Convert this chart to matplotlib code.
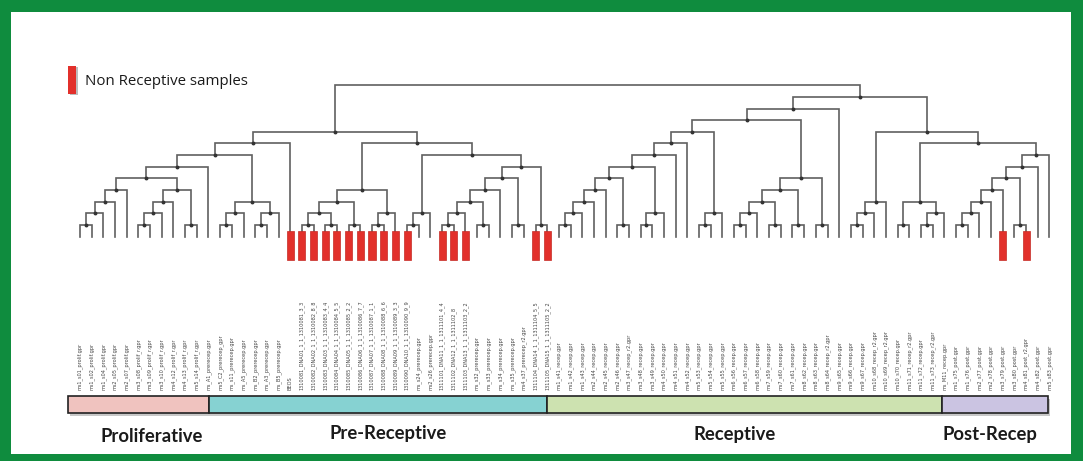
import matplotlib
matplotlib.use("Agg")
import matplotlib.pyplot as plt
from matplotlib.patches import Rectangle

# sample names along the bottom, in dendrogram leaf order
prolif_names = ["ms1_s01_prolif.gpr", "ms1_s02_prolif.gpr", "ms1_s04_prolif.gpr",
                "ms2_s05_prolif.gpr", "ms2_s07_prolif.gpr", "ms3_s08_prolif_r.gpr",
                "ms3_s09_prolif_r.gpr", "ms3_s10_prolif_r.gpr", "ms4_s12_prolif_r.gpr",
                "ms4_s13_prolif_r.gpr", "ms5_s14_prolif_r.gpr", "ms_A1_prerecep.gpr"]
prerecep_names = ["ms5_C2_prerecep_gpr", "ms_s11_prerecep.gpr", "ms_A5_prerecep.gpr",
                  "ms_B2_prerecep.gpr", "ms_A3_prerecep.gpr", "ms_B5_prerecep.gpr",
                  "BEOS",
                  "1310081_DNA01_1_1_1310081_3_3", "1310082_DNA02_1_1_1310082_8_8",
                  "1310083_DNA03_1_1_1310083_4_4", "1310084_DNA04_1_1_1310084_5_5",
                  "1310085_DNA05_1_1_1310085_2_2", "1310086_DNA06_1_1_1310086_7_7",
                  "1310087_DNA07_1_1_1310087_1_1", "1310088_DNA08_1_1_1310088_6_6",
                  "1310089_DNA09_1_1_1310089_3_3", "1310090_DNA10_1_1_1310090_9_9",
                  "ms_s24_prerecep.gpr", "ms2_s26_prerecep.gpr",
                  "1311101_DNA11_1_1_1311101_4_4", "1311102_DNA12_1_1_1311102_8",
                  "1311103_DNA13_1_1_1311103_2_2",
                  "ms_s32_prerecep.gpr", "ms_s33_prerecep.gpr", "ms_s34_prerecep.gpr",
                  "ms_s35_prerecep.gpr", "ms4_s37_prerecep_r2.gpr",
                  "1311104_DNA14_1_1_1311104_5_5", "1311105_DNA15_1_1_1311105_2_2"]
recep_names = ["ms1_s41_recep.gpr", "ms1_s42_recep.gpr", "ms1_s43_recep.gpr",
               "ms2_s44_recep.gpr", "ms2_s45_recep.gpr", "ms2_s46_recep.gpr",
               "ms3_s47_recep_r2.gpr", "ms3_s48_recep.gpr", "ms3_s49_recep.gpr",
               "ms4_s50_recep.gpr", "ms4_s51_recep.gpr", "ms4_s52_recep.gpr",
               "ms5_s53_recep.gpr", "ms5_s54_recep.gpr", "ms5_s55_recep.gpr",
               "ms6_s56_recep.gpr", "ms6_s57_recep.gpr", "ms6_s58_recep.gpr",
               "ms7_s59_recep.gpr", "ms7_s60_recep.gpr", "ms7_s61_recep.gpr",
               "ms8_s62_recep.gpr", "ms8_s63_recep.gpr", "ms8_s64_recep_r2.gpr",
               "ms9_s65_recep.gpr", "ms9_s66_recep.gpr", "ms9_s67_recep.gpr",
               "ms10_s68_recep_r2.gpr", "ms10_s69_recep_r2.gpr", "ms10_s70_recep.gpr",
               "ms11_s71_recep_r2.gpr", "ms11_s72_recep.gpr", "ms11_s73_recep_r2.gpr"]
postrecep_names = ["ms_M11_recep.gpr", "ms1_s75_post.gpr", "ms1_s76_post.gpr",
                   "ms2_s77_post.gpr", "ms2_s78_post.gpr", "ms3_s79_post.gpr",
                   "ms3_s80_post.gpr", "ms4_s81_post_r2.gpr", "ms4_s82_post.gpr",
                   "ms5_s83_post.gpr"]

stages = ["Proliferative", "Pre-Receptive", "Receptive", "Post-Recep"]
stage_colors = ["#f0c3bf", "#86d2d2", "#cde2b0", "#cbc4e2"]
# band edges as drawn in the figure (leaf units)
stage_edges = [-1.0, 11.05, 40.0, 73.8, 82.9]

# leaves marked as non receptive
non_receptive = [18, 19, 20, 21, 22, 23, 24, 25, 26, 27, 28, 31, 32, 33, 39, 40, 79, 81]

# merge tree: (merge level, left, right), leaves are sample indices
prolif_a = (4, (3, (2, (1, 0, 1), 2), 3), 4)
prolif_b = (4, (3, (2, (1, 5, 6), 7), 8), (1, 9, 10))
prolif_c = (3, (2, (1, 12, 13), 14), (2, (1, 15, 16), 17))
left_a = (8, (7, (6, (5, prolif_a, prolif_b), 11), prolif_c), 18)
pre_a = (4, (3, (2, (1, 19, 20), (1, 21, 22)), (1, 23, 24)), (2, (1, 25, 26), 27))
pre_b = (5, (4, (3, (2, (1, 31, 32), 33), (1, 34, 35)), 36), (1, 37, 38))
left_b = (8, pre_a, (7, (2, (1, 28, 29), 30), (6, pre_b, (1, 39, 40))))
rec_a = (8, (7, (6, (5, (4, (3, (2, (1, 41, 42), 43), 44), 45), (1, 46, 47)),
                 (2, (1, 48, 49), 50)), 51), 52)
rec_b = (2, (1, 53, 54), 55)
rec_c = (5, (4, (3, (2, (1, 56, 57), 58), (1, 59, 60)), (1, 61, 62)), (1, 63, 64))
right_a = (11, (10, (9, rec_a, rec_b), rec_c), 65)
post_a = (3, (2, (1, 66, 67), 68), 69)
post_b = (3, (1, 70, 71), (2, (1, 72, 73), 74))
post_c = (7, (6, (5, (4, (3, (2, (1, 75, 76), 77), 78), 79), (1, 80, 81)), 82), 83)
right_b = (9, post_a, (8, post_b, post_c))
tree = (13, (9, left_a, left_b), (12, right_a, right_b))

names = prolif_names + prerecep_names + recep_names + postrecep_names

W, H = 1083, 461
X0, DX = 80.0, 11.68     # pixel of first leaf, leaf spacing
Y0, DY = 236.7, 11.65    # pixel of leaf baseline, level spacing


def px(x):
    return (x - X0) / DX


def py(y):
    return (Y0 - y) / DY


fig = plt.figure(figsize=(W / 100, H / 100), dpi=100, facecolor="#0f8c3e")
ax = fig.add_axes([0, 0, 1, 1])
ax.set_xlim(px(0), px(W))
ax.set_ylim(py(H), py(0))
ax.axis("off")

# white panel inside the green frame
ax.add_patch(Rectangle((px(11), py(454)), px(1071) - px(11), py(12) - py(454),
                       facecolor="white", edgecolor="none", zorder=0))

line_col = "#606060"
nodes = []


def draw(node):
    if isinstance(node, int):
        return node, 0
    lvl, a, b = node
    xa, ya = draw(a)
    xb, yb = draw(b)
    ax.plot([xa, xa, xb, xb], [ya, lvl, lvl, yb], color=line_col, lw=1.2,
            solid_joinstyle="miter", zorder=2)
    x = (xa + xb) / 2
    nodes.append((x, lvl))
    return x, lvl


draw(tree)
ax.plot([n[0] for n in nodes[:-1]], [n[1] for n in nodes[:-1]], "o",
        color="#333333", ms=1.8, zorder=3)

# red markers for non receptive samples
bar_w = 0.6
for i in non_receptive:
    ax.add_patch(Rectangle((i - bar_w / 2, py(260)), bar_w, py(231.5) - py(260),
                           facecolor="#e2302b", edgecolor="#c42a25", lw=0.5, zorder=4))

# legend
ax.add_patch(Rectangle((px(69.5), py(95.5)), px(77.5) - px(69.5), py(67.5) - py(95.5),
                       facecolor="#bdbdbd", edgecolor="none", zorder=3))
ax.add_patch(Rectangle((px(68), py(94)), px(76) - px(68), py(66) - py(94),
                       facecolor="#e2302b", edgecolor="none", zorder=4))
ax.text(px(85), py(82), "Non Receptive samples", fontsize=10.8, family="Open Sans",
        ha="left", va="center", color="#1a1a1a")

# sample names
for i, name in enumerate(names):
    ax.text(i, py(390), name, rotation=90, ha="center", va="bottom",
            fontsize=3.6, color="#444444")

# stage band
band_top, band_bot = py(396), py(413)
for k, stage in enumerate(stages):
    x0, x1 = stage_edges[k], stage_edges[k + 1]
    ax.add_patch(Rectangle((x0 + 0.15, band_bot - 0.25), x1 - x0, band_top - band_bot,
                           facecolor="#c8c8c8", edgecolor="none", zorder=1))
    ax.add_patch(Rectangle((x0, band_bot), x1 - x0, band_top - band_bot,
                           facecolor=stage_colors[k], edgecolor="#222222", lw=1.2, zorder=2))

label_x = [152, 388, 735, 990]
label_y = [437, 433, 434, 434]
for k, stage in enumerate(stages):
    ax.text(px(label_x[k]), py(label_y[k]), stage, fontsize=13.3, family="Lato",
            fontweight="bold", ha="center", va="center", color="#1a1a1a")

fig.savefig("out.png", dpi=100, facecolor=fig.get_facecolor())
